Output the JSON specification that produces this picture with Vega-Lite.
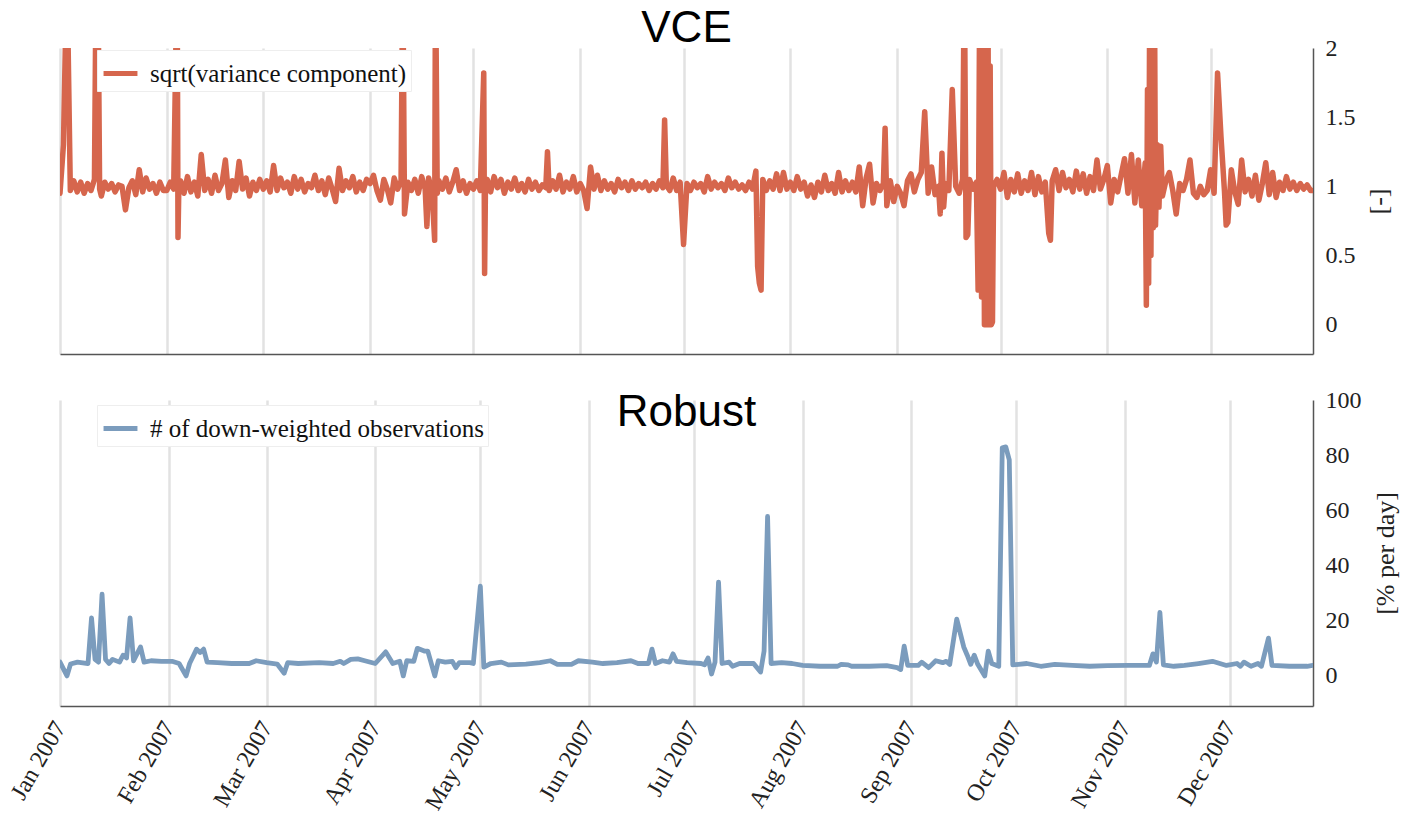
{
"$schema": "https://vega.github.io/schema/vega-lite/v6.json",
"background": "white",
"padding": {"left": 6, "top": 7, "right": 5, "bottom": 5},
"spacing": 34,
"config": {
  "view": {"stroke": null},
  "font": "Liberation Serif",
  "axis": {"labelFont": "Liberation Serif", "titleFont": "Liberation Serif", "labelColor": "#222", "titleColor": "#222", "titleFontWeight": "normal", "domainColor": "#555", "domainWidth": 1.5, "gridColor": "#e2e2e2", "gridWidth": 2.5},
  "legend": {"orient": "none", "legendX": 37, "title": null, "fillColor": "white", "strokeColor": "#eeeeee", "padding": 4, "labelFont": "Liberation Serif", "labelFontSize": 25, "labelColor": "#111", "labelLimit": 0, "symbolType": "stroke", "symbolStrokeWidth": 5, "symbolSize": 1150, "labelOffset": 10},
  "title": {"font": "Liberation Sans", "fontSize": 44, "fontWeight": "normal", "color": "#000", "anchor": "middle"}
},
"datasets": {
"vce": [
{"t":"2007-01-01","v":0.95},{"t":"2007-01-02","v":1.3},{"t":"2007-01-03","v":2.6},{"t":"2007-01-04","v":0.97},{"t":"2007-01-05","v":1.04},{"t":"2007-01-06","v":0.96},{"t":"2007-01-07","v":1.03},{"t":"2007-01-08","v":0.95},{"t":"2007-01-09","v":1.02},{"t":"2007-01-10","v":0.97},{"t":"2007-01-11","v":1.05},{"t":"2007-01-11T12:00Z","v":2.6},{"t":"2007-01-12","v":2.6},{"t":"2007-01-12T12:00Z","v":0.98},{"t":"2007-01-13","v":0.93},{"t":"2007-01-14","v":1.03},{"t":"2007-01-15","v":0.98},{"t":"2007-01-16","v":1.02},{"t":"2007-01-17","v":0.96},{"t":"2007-01-18","v":1.01},{"t":"2007-01-19","v":1.0},{"t":"2007-01-20","v":0.83},{"t":"2007-01-21","v":0.99},{"t":"2007-01-22","v":1.04},{"t":"2007-01-23","v":0.94},{"t":"2007-01-24","v":1.12},{"t":"2007-01-25","v":0.96},{"t":"2007-01-26","v":1.06},{"t":"2007-01-27","v":0.98},{"t":"2007-01-28","v":1.02},{"t":"2007-01-29","v":0.95},{"t":"2007-01-30","v":1.03},{"t":"2007-01-31","v":0.97},
{"t":"2007-02-01","v":0.97},{"t":"2007-02-02","v":1.03},{"t":"2007-02-03","v":0.98},{"t":"2007-02-04","v":2.6},{"t":"2007-02-04T06:00Z","v":0.63},{"t":"2007-02-04T12:00Z","v":1.0},{"t":"2007-02-05","v":1.04},{"t":"2007-02-06","v":0.95},{"t":"2007-02-07","v":1.07},{"t":"2007-02-08","v":0.96},{"t":"2007-02-09","v":1.03},{"t":"2007-02-10","v":0.93},{"t":"2007-02-11","v":1.23},{"t":"2007-02-12","v":0.97},{"t":"2007-02-13","v":1.05},{"t":"2007-02-14","v":0.95},{"t":"2007-02-15","v":1.08},{"t":"2007-02-16","v":0.97},{"t":"2007-02-17","v":1.02},{"t":"2007-02-18","v":1.19},{"t":"2007-02-19","v":0.92},{"t":"2007-02-20","v":1.04},{"t":"2007-02-21","v":0.97},{"t":"2007-02-22","v":1.18},{"t":"2007-02-23","v":0.98},{"t":"2007-02-24","v":1.06},{"t":"2007-02-25","v":0.93},{"t":"2007-02-26","v":1.03},{"t":"2007-02-27","v":0.97},{"t":"2007-02-28","v":1.05},
{"t":"2007-03-01","v":0.98},{"t":"2007-03-02","v":1.04},{"t":"2007-03-03","v":0.96},{"t":"2007-03-04","v":1.15},{"t":"2007-03-05","v":0.97},{"t":"2007-03-06","v":1.06},{"t":"2007-03-07","v":0.99},{"t":"2007-03-08","v":1.03},{"t":"2007-03-09","v":0.95},{"t":"2007-03-10","v":1.07},{"t":"2007-03-11","v":0.98},{"t":"2007-03-12","v":1.05},{"t":"2007-03-13","v":0.96},{"t":"2007-03-14","v":1.02},{"t":"2007-03-15","v":0.99},{"t":"2007-03-16","v":1.08},{"t":"2007-03-17","v":0.97},{"t":"2007-03-18","v":1.04},{"t":"2007-03-19","v":0.94},{"t":"2007-03-20","v":1.06},{"t":"2007-03-21","v":0.98},{"t":"2007-03-22","v":0.89},{"t":"2007-03-23","v":1.13},{"t":"2007-03-24","v":0.97},{"t":"2007-03-25","v":1.04},{"t":"2007-03-26","v":0.99},{"t":"2007-03-27","v":1.07},{"t":"2007-03-28","v":0.96},{"t":"2007-03-29","v":1.03},{"t":"2007-03-30","v":0.97},{"t":"2007-03-31","v":1.05},
{"t":"2007-04-01","v":1.02},{"t":"2007-04-02","v":1.08},{"t":"2007-04-03","v":0.97},{"t":"2007-04-04","v":0.9},{"t":"2007-04-05","v":1.05},{"t":"2007-04-06","v":0.98},{"t":"2007-04-07","v":0.88},{"t":"2007-04-08","v":1.06},{"t":"2007-04-09","v":0.98},{"t":"2007-04-10","v":1.04},{"t":"2007-04-10T12:00Z","v":2.6},{"t":"2007-04-11","v":0.8},{"t":"2007-04-12","v":1.03},{"t":"2007-04-13","v":0.97},{"t":"2007-04-14","v":1.05},{"t":"2007-04-15","v":0.95},{"t":"2007-04-16","v":1.07},{"t":"2007-04-17","v":0.98},{"t":"2007-04-17T12:00Z","v":0.71},{"t":"2007-04-18","v":1.06},{"t":"2007-04-19","v":0.96},{"t":"2007-04-19T18:00Z","v":0.61},{"t":"2007-04-20","v":2.6},{"t":"2007-04-20T12:00Z","v":0.95},{"t":"2007-04-21","v":1.04},{"t":"2007-04-22","v":0.98},{"t":"2007-04-23","v":1.06},{"t":"2007-04-24","v":0.96},{"t":"2007-04-25","v":1.03},{"t":"2007-04-26","v":1.12},{"t":"2007-04-27","v":0.97},{"t":"2007-04-28","v":1.04},{"t":"2007-04-29","v":0.95},{"t":"2007-04-30","v":1.02},
{"t":"2007-05-01","v":0.98},{"t":"2007-05-02","v":1.04},{"t":"2007-05-03","v":0.97},{"t":"2007-05-04","v":1.82},{"t":"2007-05-04T06:00Z","v":0.37},{"t":"2007-05-04T12:00Z","v":1.0},{"t":"2007-05-05","v":1.05},{"t":"2007-05-06","v":0.96},{"t":"2007-05-07","v":1.07},{"t":"2007-05-08","v":0.99},{"t":"2007-05-09","v":1.05},{"t":"2007-05-10","v":0.95},{"t":"2007-05-11","v":1.03},{"t":"2007-05-12","v":0.98},{"t":"2007-05-13","v":1.06},{"t":"2007-05-14","v":0.97},{"t":"2007-05-15","v":1.02},{"t":"2007-05-16","v":0.96},{"t":"2007-05-17","v":1.05},{"t":"2007-05-18","v":0.98},{"t":"2007-05-19","v":1.03},{"t":"2007-05-20","v":0.97},{"t":"2007-05-21","v":1.01},{"t":"2007-05-22","v":0.99},{"t":"2007-05-22T12:00Z","v":1.25},{"t":"2007-05-23","v":0.97},{"t":"2007-05-24","v":1.04},{"t":"2007-05-25","v":0.98},{"t":"2007-05-26","v":1.08},{"t":"2007-05-27","v":0.96},{"t":"2007-05-28","v":1.03},{"t":"2007-05-29","v":0.98},{"t":"2007-05-30","v":1.07},{"t":"2007-05-31","v":0.96},
{"t":"2007-06-01","v":1.02},{"t":"2007-06-02","v":0.97},{"t":"2007-06-03","v":0.84},{"t":"2007-06-04","v":1.14},{"t":"2007-06-05","v":0.98},{"t":"2007-06-06","v":1.08},{"t":"2007-06-07","v":0.97},{"t":"2007-06-08","v":1.04},{"t":"2007-06-09","v":0.98},{"t":"2007-06-10","v":1.02},{"t":"2007-06-11","v":0.96},{"t":"2007-06-12","v":1.05},{"t":"2007-06-13","v":0.99},{"t":"2007-06-14","v":1.03},{"t":"2007-06-15","v":0.97},{"t":"2007-06-16","v":1.04},{"t":"2007-06-17","v":0.98},{"t":"2007-06-18","v":1.02},{"t":"2007-06-19","v":0.99},{"t":"2007-06-20","v":1.03},{"t":"2007-06-21","v":0.97},{"t":"2007-06-22","v":1.02},{"t":"2007-06-23","v":0.98},{"t":"2007-06-24","v":1.04},{"t":"2007-06-25","v":0.99},{"t":"2007-06-25T12:00Z","v":1.48},{"t":"2007-06-26","v":1.01},{"t":"2007-06-27","v":0.97},{"t":"2007-06-28","v":1.06},{"t":"2007-06-29","v":0.97},{"t":"2007-06-30","v":1.03},
{"t":"2007-07-01","v":0.58},{"t":"2007-07-02","v":1.02},{"t":"2007-07-03","v":0.97},{"t":"2007-07-04","v":1.03},{"t":"2007-07-05","v":0.99},{"t":"2007-07-06","v":1.02},{"t":"2007-07-07","v":0.96},{"t":"2007-07-08","v":1.07},{"t":"2007-07-09","v":0.98},{"t":"2007-07-10","v":1.03},{"t":"2007-07-11","v":0.99},{"t":"2007-07-12","v":1.02},{"t":"2007-07-13","v":0.97},{"t":"2007-07-14","v":1.06},{"t":"2007-07-15","v":0.99},{"t":"2007-07-16","v":1.03},{"t":"2007-07-17","v":0.98},{"t":"2007-07-18","v":1.01},{"t":"2007-07-19","v":0.97},{"t":"2007-07-20","v":1.03},{"t":"2007-07-21","v":0.98},{"t":"2007-07-22","v":1.11},{"t":"2007-07-22T12:00Z","v":0.42},{"t":"2007-07-23","v":0.3},{"t":"2007-07-23T12:00Z","v":0.25},{"t":"2007-07-24","v":1.05},{"t":"2007-07-25","v":0.97},{"t":"2007-07-26","v":1.04},{"t":"2007-07-27","v":0.98},{"t":"2007-07-28","v":1.09},{"t":"2007-07-29","v":0.97},{"t":"2007-07-30","v":1.1},{"t":"2007-07-31","v":0.98},
{"t":"2007-08-01","v":1.03},{"t":"2007-08-02","v":0.97},{"t":"2007-08-03","v":1.07},{"t":"2007-08-04","v":0.98},{"t":"2007-08-05","v":1.03},{"t":"2007-08-06","v":0.93},{"t":"2007-08-07","v":1.01},{"t":"2007-08-08","v":0.92},{"t":"2007-08-09","v":1.03},{"t":"2007-08-10","v":0.96},{"t":"2007-08-11","v":1.08},{"t":"2007-08-12","v":0.97},{"t":"2007-08-13","v":1.02},{"t":"2007-08-14","v":0.95},{"t":"2007-08-15","v":1.1},{"t":"2007-08-16","v":0.96},{"t":"2007-08-17","v":1.04},{"t":"2007-08-18","v":0.97},{"t":"2007-08-19","v":1.03},{"t":"2007-08-20","v":0.96},{"t":"2007-08-21","v":1.14},{"t":"2007-08-22","v":0.86},{"t":"2007-08-23","v":1.06},{"t":"2007-08-24","v":1.16},{"t":"2007-08-25","v":0.88},{"t":"2007-08-26","v":1.02},{"t":"2007-08-27","v":0.97},{"t":"2007-08-28","v":1.02},{"t":"2007-08-28T12:00Z","v":1.42},{"t":"2007-08-29","v":0.86},{"t":"2007-08-30","v":1.04},{"t":"2007-08-31","v":0.89},
{"t":"2007-09-01","v":1.0},{"t":"2007-09-02","v":0.95},{"t":"2007-09-03","v":0.86},{"t":"2007-09-04","v":1.04},{"t":"2007-09-05","v":1.09},{"t":"2007-09-06","v":0.96},{"t":"2007-09-07","v":1.05},{"t":"2007-09-08","v":1.1},{"t":"2007-09-09","v":1.54},{"t":"2007-09-10","v":0.95},{"t":"2007-09-11","v":1.14},{"t":"2007-09-12","v":0.94},{"t":"2007-09-13","v":1.0},{"t":"2007-09-13T12:00Z","v":0.8},{"t":"2007-09-14","v":1.24},{"t":"2007-09-14T12:00Z","v":0.85},{"t":"2007-09-15","v":1.02},{"t":"2007-09-16","v":0.97},{"t":"2007-09-17","v":1.7},{"t":"2007-09-18","v":1.0},{"t":"2007-09-19","v":0.95},{"t":"2007-09-20","v":1.05},{"t":"2007-09-20T12:00Z","v":2.6},{"t":"2007-09-21","v":0.63},{"t":"2007-09-21T12:00Z","v":0.65},{"t":"2007-09-22","v":1.05},{"t":"2007-09-23","v":0.98},{"t":"2007-09-24","v":1.03},{"t":"2007-09-24T12:00Z","v":0.25},{"t":"2007-09-25","v":2.6},{"t":"2007-09-25T12:00Z","v":0.2},{"t":"2007-09-26","v":2.6},{"t":"2007-09-26T08:00Z","v":0.0},{"t":"2007-09-26T16:00Z","v":2.6},{"t":"2007-09-27","v":0.0},{"t":"2007-09-27T08:00Z","v":2.6},{"t":"2007-09-27T16:00Z","v":0.0},{"t":"2007-09-28","v":1.87},{"t":"2007-09-28T08:00Z","v":0.0},{"t":"2007-09-28T16:00Z","v":0.02},{"t":"2007-09-29","v":1.0},{"t":"2007-09-30","v":1.05},
{"t":"2007-10-01","v":0.98},{"t":"2007-10-02","v":1.1},{"t":"2007-10-03","v":0.92},{"t":"2007-10-04","v":1.05},{"t":"2007-10-05","v":0.96},{"t":"2007-10-06","v":1.09},{"t":"2007-10-07","v":0.95},{"t":"2007-10-08","v":1.04},{"t":"2007-10-09","v":0.97},{"t":"2007-10-10","v":1.1},{"t":"2007-10-11","v":0.94},{"t":"2007-10-12","v":1.07},{"t":"2007-10-13","v":0.96},{"t":"2007-10-14","v":1.03},{"t":"2007-10-15","v":0.66},{"t":"2007-10-15T12:00Z","v":0.61},{"t":"2007-10-16","v":1.04},{"t":"2007-10-17","v":1.12},{"t":"2007-10-18","v":0.97},{"t":"2007-10-19","v":1.1},{"t":"2007-10-20","v":0.99},{"t":"2007-10-21","v":1.05},{"t":"2007-10-22","v":0.96},{"t":"2007-10-23","v":1.11},{"t":"2007-10-24","v":0.98},{"t":"2007-10-25","v":1.09},{"t":"2007-10-26","v":0.95},{"t":"2007-10-27","v":1.07},{"t":"2007-10-28","v":0.97},{"t":"2007-10-29","v":1.19},{"t":"2007-10-30","v":0.98},{"t":"2007-10-31","v":1.05},
{"t":"2007-11-01","v":1.15},{"t":"2007-11-02","v":0.88},{"t":"2007-11-03","v":1.05},{"t":"2007-11-04","v":0.96},{"t":"2007-11-05","v":1.08},{"t":"2007-11-06","v":1.2},{"t":"2007-11-07","v":0.95},{"t":"2007-11-08","v":1.23},{"t":"2007-11-09","v":0.88},{"t":"2007-11-10","v":1.19},{"t":"2007-11-11","v":0.86},{"t":"2007-11-12","v":1.17},{"t":"2007-11-12T08:00Z","v":0.14},{"t":"2007-11-12T16:00Z","v":1.7},{"t":"2007-11-13","v":0.3},{"t":"2007-11-13T08:00Z","v":2.6},{"t":"2007-11-13T16:00Z","v":0.5},{"t":"2007-11-14","v":2.6},{"t":"2007-11-14T08:00Z","v":0.7},{"t":"2007-11-14T16:00Z","v":2.6},{"t":"2007-11-15","v":0.72},{"t":"2007-11-15T12:00Z","v":1.3},{"t":"2007-11-16","v":0.85},{"t":"2007-11-16T12:00Z","v":1.29},{"t":"2007-11-17","v":0.93},{"t":"2007-11-18","v":1.04},{"t":"2007-11-19","v":1.1},{"t":"2007-11-20","v":0.97},{"t":"2007-11-21","v":0.8},{"t":"2007-11-22","v":1.02},{"t":"2007-11-23","v":0.97},{"t":"2007-11-24","v":1.05},{"t":"2007-11-25","v":1.19},{"t":"2007-11-26","v":0.95},{"t":"2007-11-27","v":0.92},{"t":"2007-11-28","v":1.0},{"t":"2007-11-29","v":0.94},{"t":"2007-11-30","v":0.97},
{"t":"2007-12-01","v":1.12},{"t":"2007-12-02","v":0.95},{"t":"2007-12-03","v":1.82},{"t":"2007-12-04","v":1.36},{"t":"2007-12-05","v":0.97},{"t":"2007-12-05T12:00Z","v":0.72},{"t":"2007-12-06","v":0.74},{"t":"2007-12-07","v":1.12},{"t":"2007-12-08","v":0.96},{"t":"2007-12-09","v":0.87},{"t":"2007-12-10","v":1.19},{"t":"2007-12-11","v":0.96},{"t":"2007-12-12","v":1.05},{"t":"2007-12-13","v":0.93},{"t":"2007-12-14","v":1.08},{"t":"2007-12-15","v":0.9},{"t":"2007-12-16","v":1.02},{"t":"2007-12-17","v":1.17},{"t":"2007-12-18","v":0.94},{"t":"2007-12-19","v":1.1},{"t":"2007-12-20","v":0.92},{"t":"2007-12-21","v":1.03},{"t":"2007-12-22","v":0.97},{"t":"2007-12-23","v":1.07},{"t":"2007-12-24","v":0.98},{"t":"2007-12-25","v":1.03},{"t":"2007-12-26","v":0.97},{"t":"2007-12-27","v":1.02},{"t":"2007-12-28","v":0.98},{"t":"2007-12-29","v":1.01},{"t":"2007-12-30","v":0.97},{"t":"2007-12-30T16:00Z","v":0.97}
],
"robust": [
{"t":"2007-01-01","v":5.0},{"t":"2007-01-03","v":0},{"t":"2007-01-04","v":4.3},{"t":"2007-01-06","v":5},{"t":"2007-01-09","v":4.5},{"t":"2007-01-10","v":21},{"t":"2007-01-11","v":6},{"t":"2007-01-12","v":5},{"t":"2007-01-13","v":29.6},{"t":"2007-01-14","v":6},{"t":"2007-01-15","v":4.5},{"t":"2007-01-16","v":6},{"t":"2007-01-18","v":5},{"t":"2007-01-19","v":7.5},{"t":"2007-01-20","v":6.5},{"t":"2007-01-21","v":21},{"t":"2007-01-22","v":5.5},{"t":"2007-01-24","v":10.5},{"t":"2007-01-25","v":5},{"t":"2007-01-27","v":5.5},{"t":"2007-01-30","v":5.3},
{"t":"2007-02-02","v":5.3},{"t":"2007-02-04","v":4.5},{"t":"2007-02-06","v":0},{"t":"2007-02-07","v":4.5},{"t":"2007-02-09","v":9.7},{"t":"2007-02-10","v":8.5},{"t":"2007-02-11","v":9.7},{"t":"2007-02-12","v":5},{"t":"2007-02-15","v":4.8},{"t":"2007-02-19","v":4.5},{"t":"2007-02-24","v":4.5},{"t":"2007-02-26","v":5.5},
{"t":"2007-03-01","v":4.8},{"t":"2007-03-04","v":4.3},{"t":"2007-03-06","v":1},{"t":"2007-03-07","v":4.8},{"t":"2007-03-10","v":4.5},{"t":"2007-03-16","v":4.8},{"t":"2007-03-20","v":4.5},{"t":"2007-03-22","v":5.3},{"t":"2007-03-23","v":4.5},{"t":"2007-03-25","v":6},{"t":"2007-03-27","v":6.2},{"t":"2007-03-29","v":5.5},
{"t":"2007-04-01","v":4.5},{"t":"2007-04-04","v":8.7},{"t":"2007-04-06","v":4.5},{"t":"2007-04-08","v":5.3},{"t":"2007-04-09","v":0},{"t":"2007-04-10","v":5.5},{"t":"2007-04-12","v":5.3},{"t":"2007-04-13","v":10},{"t":"2007-04-15","v":9},{"t":"2007-04-16","v":9},{"t":"2007-04-18","v":0},{"t":"2007-04-19","v":5.5},{"t":"2007-04-21","v":5},{"t":"2007-04-23","v":5.3},{"t":"2007-04-24","v":3},{"t":"2007-04-25","v":4.8},{"t":"2007-04-28","v":4.8},{"t":"2007-04-29","v":4.5},
{"t":"2007-05-01","v":32.5},{"t":"2007-05-02","v":3.2},{"t":"2007-05-04","v":4.5},{"t":"2007-05-07","v":5},{"t":"2007-05-09","v":4},{"t":"2007-05-14","v":4.3},{"t":"2007-05-18","v":4.8},{"t":"2007-05-21","v":5.5},{"t":"2007-05-23","v":4.2},{"t":"2007-05-27","v":4.2},{"t":"2007-05-29","v":5.5},
{"t":"2007-06-02","v":5},{"t":"2007-06-05","v":4.5},{"t":"2007-06-09","v":4.8},{"t":"2007-06-13","v":5.5},{"t":"2007-06-15","v":4.5},{"t":"2007-06-18","v":4.5},{"t":"2007-06-19","v":9.7},{"t":"2007-06-20","v":4.5},{"t":"2007-06-22","v":5.5},{"t":"2007-06-24","v":5},{"t":"2007-06-25","v":8},{"t":"2007-06-26","v":5.3},{"t":"2007-06-29","v":4.8},
{"t":"2007-07-03","v":4.5},{"t":"2007-07-04","v":4},{"t":"2007-07-05","v":6.5},{"t":"2007-07-06","v":0.7},{"t":"2007-07-07","v":5},{"t":"2007-07-08","v":34},{"t":"2007-07-09","v":4.5},{"t":"2007-07-11","v":5},{"t":"2007-07-12","v":3.5},{"t":"2007-07-14","v":4.5},{"t":"2007-07-16","v":4.5},{"t":"2007-07-18","v":4.5},{"t":"2007-07-20","v":1.4},{"t":"2007-07-21","v":9},{"t":"2007-07-22","v":57.8},{"t":"2007-07-23","v":4.5},{"t":"2007-07-26","v":4.8},{"t":"2007-07-29","v":4.5},
{"t":"2007-08-01","v":3.8},{"t":"2007-08-06","v":3.5},{"t":"2007-08-11","v":3.5},{"t":"2007-08-12","v":4.2},{"t":"2007-08-14","v":4},{"t":"2007-08-15","v":3.5},{"t":"2007-08-20","v":3.5},{"t":"2007-08-25","v":3.7},{"t":"2007-08-28","v":3},{"t":"2007-08-29","v":2.3},{"t":"2007-08-30","v":10.8},{"t":"2007-08-31","v":3.8},
{"t":"2007-09-03","v":3.8},{"t":"2007-09-04","v":5},{"t":"2007-09-06","v":3},{"t":"2007-09-08","v":5.5},{"t":"2007-09-10","v":4.8},{"t":"2007-09-11","v":5.3},{"t":"2007-09-12","v":4.2},{"t":"2007-09-14","v":20.6},{"t":"2007-09-16","v":10.5},{"t":"2007-09-17","v":7.5},{"t":"2007-09-18","v":4.2},{"t":"2007-09-19","v":7.5},{"t":"2007-09-20","v":4.2},{"t":"2007-09-22","v":0},{"t":"2007-09-23","v":9},{"t":"2007-09-24","v":4.5},{"t":"2007-09-26","v":3.5},{"t":"2007-09-27","v":82.7},{"t":"2007-09-28","v":83},{"t":"2007-09-29","v":78.3},{"t":"2007-09-30","v":4},
{"t":"2007-10-04","v":4.5},{"t":"2007-10-08","v":3.5},{"t":"2007-10-12","v":4.2},{"t":"2007-10-17","v":3.8},{"t":"2007-10-22","v":3.5},{"t":"2007-10-27","v":3.7},
{"t":"2007-11-02","v":3.8},{"t":"2007-11-05","v":3.8},{"t":"2007-11-08","v":3.8},{"t":"2007-11-09","v":8},{"t":"2007-11-10","v":5},{"t":"2007-11-11","v":23},{"t":"2007-11-12","v":4},{"t":"2007-11-15","v":3.5},{"t":"2007-11-18","v":3.8},{"t":"2007-11-22","v":4.5},{"t":"2007-11-26","v":5.3},{"t":"2007-11-30","v":3.8},
{"t":"2007-12-03","v":4.5},{"t":"2007-12-04","v":3.5},{"t":"2007-12-05","v":5},{"t":"2007-12-07","v":3.5},{"t":"2007-12-09","v":4.5},{"t":"2007-12-10","v":3.5},{"t":"2007-12-12","v":13.7},{"t":"2007-12-13","v":3.8},{"t":"2007-12-18","v":3.5},{"t":"2007-12-23","v":3.5},{"t":"2007-12-24T16:00Z","v":3.8}
]
},
"vconcat": [
{
  "title": {"text": "VCE", "offset": -15},
  "width": 1253, "height": 306,
  "data": {"name": "vce"},
  "mark": {"type": "line", "clip": true, "strokeWidth": 5.5, "strokeJoin": "round", "strokeCap": "round"},
  "encoding": {
    "x": {"field": "t", "type": "temporal",
      "scale": {"type": "utc", "domain": [{"year": 2007, "month": 1, "date": 1, "utc": true}, {"year": 2007, "month": 12, "date": 30, "hours": 17, "utc": true}]},
      "axis": {"title": null, "labels": false, "ticks": false, "grid": true,
        "values": [{"year":2007,"month":1,"date":1,"utc":true},{"year":2007,"month":2,"date":1,"utc":true},{"year":2007,"month":3,"date":1,"utc":true},{"year":2007,"month":4,"date":1,"utc":true},{"year":2007,"month":5,"date":1,"utc":true},{"year":2007,"month":6,"date":1,"utc":true},{"year":2007,"month":7,"date":1,"utc":true},{"year":2007,"month":8,"date":1,"utc":true},{"year":2007,"month":9,"date":1,"utc":true},{"year":2007,"month":10,"date":1,"utc":true},{"year":2007,"month":11,"date":1,"utc":true},{"year":2007,"month":12,"date":1,"utc":true}]}},
    "y": {"field": "v", "type": "quantitative",
      "scale": {"domain": [-0.212, 2], "nice": false, "zero": false},
      "axis": {"orient": "right", "values": [0, 0.5, 1, 1.5, 2], "format": "~g", "grid": false, "ticks": false, "labelPadding": 12, "labelFontSize": 24, "title": "[-]", "titleFontSize": 26, "titleAngle": 270, "titlePadding": 36}},
    "color": {"datum": "sqrt(variance component)", "type": "nominal", "scale": {"range": ["#d6664d"]}, "legend": {"legendY": 2}}
  }
},
{
  "title": {"text": "Robust", "offset": -47},
  "width": 1253, "height": 306,
  "data": {"name": "robust"},
  "mark": {"type": "line", "clip": true, "strokeWidth": 4.8, "strokeJoin": "round", "strokeCap": "round"},
  "encoding": {
    "x": {"field": "t", "type": "temporal",
      "scale": {"type": "utc", "domain": [{"year": 2007, "month": 1, "date": 1, "utc": true}, {"year": 2007, "month": 12, "date": 24, "hours": 17, "utc": true}]},
      "axis": {"title": null, "ticks": false, "grid": true, "labelExpr": "utcFormat(datum.value, '%b %Y')", "labelAngle": -60, "labelFontSize": 24, "labelPadding": 17,
        "values": [{"year":2007,"month":1,"date":1,"utc":true},{"year":2007,"month":2,"date":1,"utc":true},{"year":2007,"month":3,"date":1,"utc":true},{"year":2007,"month":4,"date":1,"utc":true},{"year":2007,"month":5,"date":1,"utc":true},{"year":2007,"month":6,"date":1,"utc":true},{"year":2007,"month":7,"date":1,"utc":true},{"year":2007,"month":8,"date":1,"utc":true},{"year":2007,"month":9,"date":1,"utc":true},{"year":2007,"month":10,"date":1,"utc":true},{"year":2007,"month":11,"date":1,"utc":true},{"year":2007,"month":12,"date":1,"utc":true}]}},
    "y": {"field": "v", "type": "quantitative",
      "scale": {"domain": [-10.9, 100], "nice": false, "zero": false},
      "axis": {"orient": "right", "values": [0, 20, 40, 60, 80, 100], "grid": false, "ticks": false, "labelPadding": 12, "labelFontSize": 24, "title": "[% per day]", "titleFontSize": 26, "titleAngle": 270, "titlePadding": 37}},
    "color": {"datum": "# of down-weighted observations", "type": "nominal", "scale": {"range": ["#7b9cbd"]}, "legend": {"legendY": 5}}
  }
}
],
"resolve": {"scale": {"x": "independent", "y": "independent", "color": "independent"}, "axis": {"x": "independent", "y": "independent"}, "legend": {"color": "independent"}}
}
